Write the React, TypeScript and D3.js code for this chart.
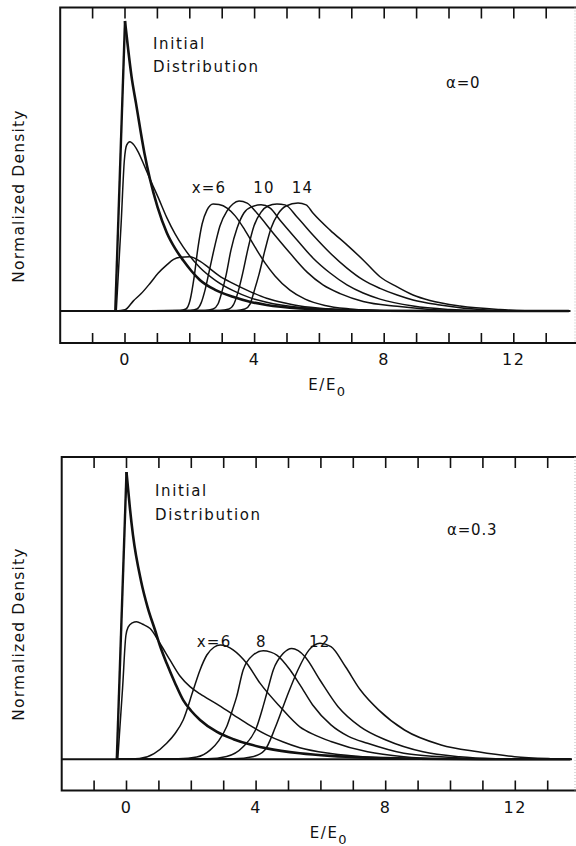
import React from 'react';
import * as d3 from 'd3';

type Pt = [number, number];

// ---------- axis ticks ----------
const xTicks: number[] = [-1, 0, 1, 2, 3, 4, 5, 6, 7, 8, 9, 10, 11, 12, 13];
const xTickLabels: number[] = [0, 4, 8, 12];

// ---------- top panel (alpha = 0) ----------
const topInitial: Pt[] = [
  [-0.3, 0], [0, 1], [0.1, 0.9], [0.2, 0.81], [0.34, 0.716], [0.6, 0.544], [0.77, 0.455],
  [1.0, 0.36], [1.29, 0.27], [1.55, 0.215], [1.8, 0.174], [2.05, 0.138], [2.31, 0.107],
  [2.8, 0.072], [3.33, 0.049], [3.85, 0.032], [4.37, 0.021], [5.4, 0.009], [6.5, 0.004],
  [8, 0.001], [10, 0], [13.7, 0],
];
const topRounded: Pt[] = [
  [-0.27, 0], [-0.12, 0.3], [-0.02, 0.52], [0.05, 0.572], [0.15, 0.584], [0.28, 0.572],
  [0.41, 0.548], [0.6, 0.5], [0.77, 0.455], [1.03, 0.39], [1.29, 0.322], [1.55, 0.265],
  [1.8, 0.22], [2.31, 0.15], [2.8, 0.105], [3.34, 0.07], [3.85, 0.046], [4.37, 0.03],
  [5.4, 0.012], [6.5, 0.004], [8, 0.001], [10, 0], [13.7, 0],
];
const topLowHump: Pt[] = [
  [-0.3, 0], [0, 0.004], [0.26, 0.035], [0.5, 0.06], [0.77, 0.095], [1.02, 0.13],
  [1.29, 0.159], [1.5, 0.178], [1.7, 0.185], [2.0, 0.187], [2.31, 0.172], [2.6, 0.148],
  [2.9, 0.122], [3.33, 0.095], [3.86, 0.067], [4.37, 0.044], [5.0, 0.026], [5.4, 0.017],
  [6.35, 0.007], [7.5, 0.002], [9, 0], [13.7, 0],
];
const topX6: Pt[] = [
  [-0.3, 0], [1.7, 0.002], [1.88, 0.007], [2.01, 0.038], [2.13, 0.114], [2.25, 0.217],
  [2.38, 0.3], [2.53, 0.348], [2.72, 0.369], [2.9, 0.367], [3.15, 0.355], [3.4, 0.328],
  [3.7, 0.279], [4.01, 0.221], [4.32, 0.166], [4.63, 0.121], [5.09, 0.072], [5.56, 0.041],
  [6.17, 0.019], [6.94, 0.007], [7.87, 0.001], [9.1, 0], [13.7, 0],
];
const topX8: Pt[] = [
  [-0.3, 0], [2.01, 0.002], [2.22, 0.007], [2.35, 0.028], [2.47, 0.072], [2.62, 0.148],
  [2.78, 0.228], [2.93, 0.293], [3.15, 0.345], [3.33, 0.369], [3.52, 0.379], [3.77, 0.372],
  [4.07, 0.338], [4.57, 0.269], [5.09, 0.2], [5.62, 0.134], [6.11, 0.09], [6.64, 0.06],
  [7.35, 0.033], [8.4, 0.016], [9.41, 0.005], [10.6, 0], [13.7, 0],
];
const topX10: Pt[] = [
  [-0.3, 0], [2.47, 0.002], [2.72, 0.007], [2.87, 0.024], [2.99, 0.066], [3.12, 0.124],
  [3.27, 0.21], [3.46, 0.286], [3.67, 0.338], [3.92, 0.36], [4.2, 0.366], [4.48, 0.355],
  [4.78, 0.314], [5.31, 0.245], [5.8, 0.183], [6.33, 0.131], [6.85, 0.09], [7.35, 0.062],
  [7.87, 0.041], [8.89, 0.017], [10.03, 0.005], [11.3, 0], [13.7, 0],
];
const topX12: Pt[] = [
  [-0.3, 0], [2.93, 0.002], [3.21, 0.007], [3.36, 0.024], [3.49, 0.066], [3.64, 0.134],
  [3.8, 0.217], [3.98, 0.293], [4.2, 0.341], [4.41, 0.362], [4.69, 0.369], [4.94, 0.366],
  [5.31, 0.324], [5.8, 0.262], [6.33, 0.2], [6.85, 0.148], [7.35, 0.107], [7.87, 0.078],
  [8.4, 0.055], [8.89, 0.038], [9.72, 0.021], [10.96, 0.005], [12.2, 0], [13.7, 0],
];
const topX14: Pt[] = [
  [-0.3, 0], [3.43, 0.002], [3.7, 0.007], [3.86, 0.024], [3.98, 0.066], [4.14, 0.128],
  [4.32, 0.21], [4.51, 0.286], [4.72, 0.334], [4.97, 0.362], [5.34, 0.372], [5.59, 0.366],
  [5.8, 0.338], [6.33, 0.279], [6.85, 0.228], [7.35, 0.176], [7.87, 0.118], [8.4, 0.083],
  [8.89, 0.055], [9.41, 0.036], [10.34, 0.017], [11.57, 0.005], [12.8, 0], [13.7, 0],
];

// ---------- bottom panel (alpha = 0.3) ----------
const botInitial: Pt[] = [
  [-0.3, 0], [0, 1], [0.1, 0.88], [0.2, 0.78], [0.45, 0.62], [0.65, 0.53], [0.88, 0.45],
  [1.05, 0.39], [1.24, 0.334], [1.5, 0.265], [1.75, 0.206], [2.0, 0.168], [2.27, 0.137],
  [2.78, 0.096], [3.3, 0.07], [3.8, 0.052], [4.33, 0.038], [5.35, 0.021], [6.3, 0.012],
  [7.4, 0.006], [9, 0.002], [11, 0], [13.7, 0],
];
const botRounded: Pt[] = [
  [-0.27, 0], [-0.12, 0.25], [-0.02, 0.43], [0.05, 0.46], [0.18, 0.475], [0.31, 0.479],
  [0.5, 0.47], [0.73, 0.455], [1.03, 0.404], [1.34, 0.346], [1.65, 0.29], [1.96, 0.253],
  [2.27, 0.228], [2.78, 0.193], [3.3, 0.155], [3.81, 0.118], [4.33, 0.085], [4.84, 0.06],
  [5.35, 0.04], [6.3, 0.02], [7.4, 0.008], [9, 0.002], [11, 0], [13.7, 0],
];
const botX6: Pt[] = [
  [-0.3, 0], [0.4, 0.003], [0.85, 0.02], [1.24, 0.056], [1.5, 0.09], [1.75, 0.137],
  [2.06, 0.241], [2.27, 0.311], [2.48, 0.363], [2.7, 0.39], [2.89, 0.398], [3.1, 0.393],
  [3.3, 0.38], [3.71, 0.334], [4.12, 0.265], [4.74, 0.183], [5.35, 0.113], [5.8, 0.085],
  [6.31, 0.062], [7.44, 0.026], [8.56, 0.009], [9.7, 0.002], [11, 0], [13.7, 0],
];
const botX8: Pt[] = [
  [-0.3, 0], [1.6, 0.002], [2.17, 0.008], [2.58, 0.032], [2.85, 0.065], [3.09, 0.113],
  [3.25, 0.165], [3.4, 0.218], [3.6, 0.311], [3.91, 0.363], [4.22, 0.378], [4.45, 0.373],
  [4.64, 0.363], [5.05, 0.311], [5.35, 0.26], [5.74, 0.19], [6.31, 0.12], [6.85, 0.08],
  [7.44, 0.056], [8.56, 0.021], [9.7, 0.009], [10.85, 0.002], [12, 0], [13.7, 0],
];
const botX10: Pt[] = [
  [-0.3, 0], [2.5, 0.002], [3.09, 0.01], [3.6, 0.044], [4.02, 0.113], [4.18, 0.17],
  [4.33, 0.23], [4.53, 0.311], [4.84, 0.369], [5.1, 0.386], [5.3, 0.378], [5.51, 0.357],
  [5.97, 0.276], [6.53, 0.183], [7.22, 0.113], [8.01, 0.067], [9.15, 0.026], [10.28, 0.009],
  [11.4, 0.002], [12.5, 0], [13.7, 0],
];
const botX12: Pt[] = [
  [-0.3, 0], [3.3, 0.002], [3.93, 0.01], [4.27, 0.032], [4.6, 0.113], [4.95, 0.218],
  [5.29, 0.311], [5.63, 0.38], [5.97, 0.404], [6.31, 0.392], [6.76, 0.322], [7.22, 0.241],
  [7.78, 0.172], [8.58, 0.102], [9.71, 0.05], [10.85, 0.026], [11.98, 0.009], [13.1, 0.002],
  [13.7, 0],
];

// ---------- labels ----------
type Lbl = { text: string; x: number; y: number };
const topCurveLabels: Lbl[] = [
  { text: 'x=6', x: 2.06, y: 0.406 },
  { text: '10', x: 3.96, y: 0.406 },
  { text: '14', x: 5.15, y: 0.406 },
];
const botCurveLabels: Lbl[] = [
  { text: 'x=6', x: 2.17, y: 0.39 },
  { text: '8', x: 4.0, y: 0.39 },
  { text: '12', x: 5.63, y: 0.39 },
];

const FONT = '"DejaVu Sans", "Liberation Sans", sans-serif';
const INK = '#111';

interface PanelProps {
  frameTop: number;
  frameBottom: number;
  baseline: number;
  peakY: number;
  x0: number;
  unit: number;
  initial: Pt[];
  curves: Pt[][];
  curveLabels: Lbl[];
  alphaText: string;
  alphaPos: [number, number];
  initPos: [number, number];
  yLabelCenter: number;
}

function Panel(p: PanelProps) {
  const x = d3.scaleLinear().domain([-2, 14]).range([p.x0 - 2 * p.unit, p.x0 + 14 * p.unit]);
  const y = d3.scaleLinear().domain([0, 1]).range([p.baseline, p.peakY]);
  const smooth = d3.line<Pt>().x(d => x(d[0])).y(d => y(d[1])).curve(d3.curveMonotoneX);
  const straight = d3.line<Pt>().x(d => x(d[0])).y(d => y(d[1]));
  const left = x(-2);
  const rightEdge = 576;
  const tickLen = 11;

  return (
    <g>
      {/* frame */}
      <path
        d={`M${rightEdge},${p.frameTop}H${left}V${p.frameBottom}H${rightEdge}`}
        fill="none"
        stroke={INK}
        strokeWidth={2}
      />
      <line x1={575} x2={575} y1={p.frameTop} y2={p.frameBottom} stroke="#bbb" strokeWidth={1} strokeDasharray="1,2" />
      {/* ticks */}
      {xTicks.map(t => (
        <g key={t}>
          <line x1={x(t)} x2={x(t)} y1={p.frameTop} y2={p.frameTop + tickLen} stroke={INK} strokeWidth={1.6} />
          <line x1={x(t)} x2={x(t)} y1={p.frameBottom} y2={p.frameBottom - tickLen + 1} stroke={INK} strokeWidth={1.6} />
        </g>
      ))}
      {xTickLabels.map(t => (
        <text
          key={t}
          x={x(t)}
          y={p.frameBottom + 22}
          textAnchor="middle"
          fontFamily={FONT}
          fontSize={16}
          letterSpacing={1.5}
          fill={INK}
        >
          {t}
        </text>
      ))}
      <text x={x(6.25)} y={p.frameBottom + 47} textAnchor="middle" fontFamily={FONT} fontSize={15} letterSpacing={1.5} fill={INK}>
        E/E<tspan fontSize={13} dy={6}>0</tspan>
      </text>
      <text
        transform={`translate(24,${p.yLabelCenter}) rotate(-90)`}
        textAnchor="middle"
        fontFamily={FONT}
        fontSize={15.5}
        letterSpacing={1.2}
        fill={INK}
      >
        Normalized Density
      </text>
      {/* baseline */}
      <line x1={left} x2={x(13.75)} y1={y(0)} y2={y(0)} stroke={INK} strokeWidth={2} />
      {/* curves */}
      {p.curves.map((c, i) => (
        <path key={i} d={smooth(c) || ''} fill="none" stroke={INK} strokeWidth={1.5} strokeLinejoin="round" />
      ))}
      <path d={straight(p.initial.slice(0, 2)) || ''} fill="none" stroke={INK} strokeWidth={2.4} />
      <path d={smooth(p.initial.slice(1)) || ''} fill="none" stroke={INK} strokeWidth={2.6} strokeLinejoin="round" />
      {/* labels */}
      <text x={p.initPos[0]} y={p.initPos[1]} fontFamily={FONT} fontSize={15} letterSpacing={1.6} fill={INK}>
        Initial
      </text>
      <text x={p.initPos[0]} y={p.initPos[1] + 23.5} fontFamily={FONT} fontSize={15} letterSpacing={1.6} fill={INK}>
        Distribution
      </text>
      <text x={p.alphaPos[0]} y={p.alphaPos[1]} fontFamily={FONT} fontSize={15} letterSpacing={0.8} fill={INK}>
        {p.alphaText}
      </text>
      {p.curveLabels.map((l, i) => (
        <text key={i} x={x(l.x)} y={y(l.y)} fontFamily={FONT} fontSize={15} letterSpacing={1.2} fill={INK}>
          {l.text}
        </text>
      ))}
    </g>
  );
}

export default function App() {
  return (
    <svg
      width={576}
      height={846}
      viewBox="0 0 576 846"
      style={{ position: 'absolute', left: 0, top: 0, background: '#fff' }}
    >
      <rect x={0} y={0} width={576} height={846} fill="#fff" />
      <Panel
        frameTop={7.5}
        frameBottom={343}
        baseline={311}
        peakY={21}
        x0={125}
        unit={32.4}
        initial={topInitial}
        curves={[topRounded, topLowHump, topX6, topX8, topX10, topX12, topX14]}
        curveLabels={topCurveLabels}
        alphaText="α=0"
        alphaPos={[446, 87.5]}
        initPos={[153, 48.5]}
        yLabelCenter={196}
      />
      <Panel
        frameTop={457}
        frameBottom={790.5}
        baseline={759.3}
        peakY={472}
        x0={126.5}
        unit={32.4}
        initial={botInitial}
        curves={[botRounded, botX6, botX8, botX10, botX12]}
        curveLabels={botCurveLabels}
        alphaText="α=0.3"
        alphaPos={[447, 535]}
        initPos={[155, 496]}
        yLabelCenter={634}
      />
    </svg>
  );
}
